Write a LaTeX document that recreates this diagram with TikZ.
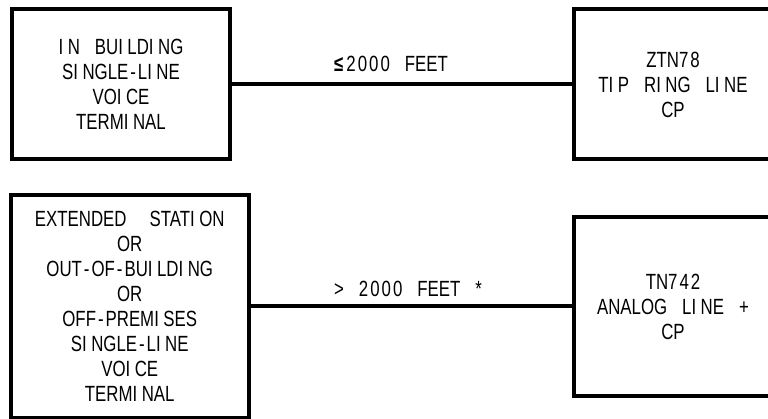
\documentclass[tikz,border=0pt]{standalone}
\usepackage{fontspec}
\newfontfamily\diafont{Liberation Sans}[FakeStretch=0.765,WordSpace={3.2,0,0}]
\XeTeXinterchartokenstate=1
\newXeTeXintercharclass\Icls
\newXeTeXintercharclass\Hcls
\newXeTeXintercharclass\Dcls
\XeTeXcharclass`\I=\Icls
\XeTeXcharclass`\-=\Hcls
\XeTeXcharclass`\0=\Dcls
\XeTeXcharclass`\1=\Dcls
\XeTeXcharclass`\2=\Dcls
\XeTeXcharclass`\3=\Dcls
\XeTeXcharclass`\4=\Dcls
\XeTeXcharclass`\5=\Dcls
\XeTeXcharclass`\6=\Dcls
\XeTeXcharclass`\7=\Dcls
\XeTeXcharclass`\8=\Dcls
\XeTeXcharclass`\9=\Dcls
\XeTeXinterchartoks\Icls 0={\kern4.5pt}
\XeTeXinterchartoks 0 \Hcls={\kern2pt}
\XeTeXinterchartoks\Hcls 0={\kern2pt}
\XeTeXinterchartoks\Dcls\Dcls={\kern2pt}
\tikzset{
  diatext/.style={font=\diafont\fontsize{22}{25}\selectfont},
  box/.style={draw, line width=4pt, rectangle, inner sep=0pt, align=center, diatext},
  wire/.style={line width=4pt},
  lbl/.style={anchor=base west, inner sep=0pt, diatext}
}
\begin{document}
\begin{tikzpicture}[x=1pt,y=-1pt]
\useasboundingbox (0,0) rectangle (768,419);
\clip (0,0) rectangle (768,419);
\node[box, minimum width=218pt, minimum height=150pt] (b1) at (121,84.5)
  {IN BUILDING\\SINGLE-LINE\\VOICE\\TERMINAL};
\node[box, minimum width=198pt, minimum height=150pt] (b2) at (673,84.5)
  {ZTN78\\TIP RING LINE\\CP};
\node[box, minimum width=238.5pt, minimum height=222pt] (b3) at (129.75,306.5)
  {EXTENDED\hspace{8pt} STATION\\OR\\OUT-OF-BUILDING\\OR\\OFF-PREMISES\\SINGLE-LINE\\VOICE\\TERMINAL};
\node[box, minimum width=198pt, minimum height=179pt] (b4) at (673,306.5)
  {TN742\\ANALOG LINE +\\CP};
\draw[wire] (b1.east) -- (b1.east -| b2.west);
\draw[wire] (b3.east) -- (b3.east -| b4.west);
\node[lbl] (l1) at (334,72) {{\bfseries ≤}\kern3pt 2000 FEET};
\node[lbl] (l2) at (334,297) {> 2000 FEET *};
\end{tikzpicture}
\end{document}
